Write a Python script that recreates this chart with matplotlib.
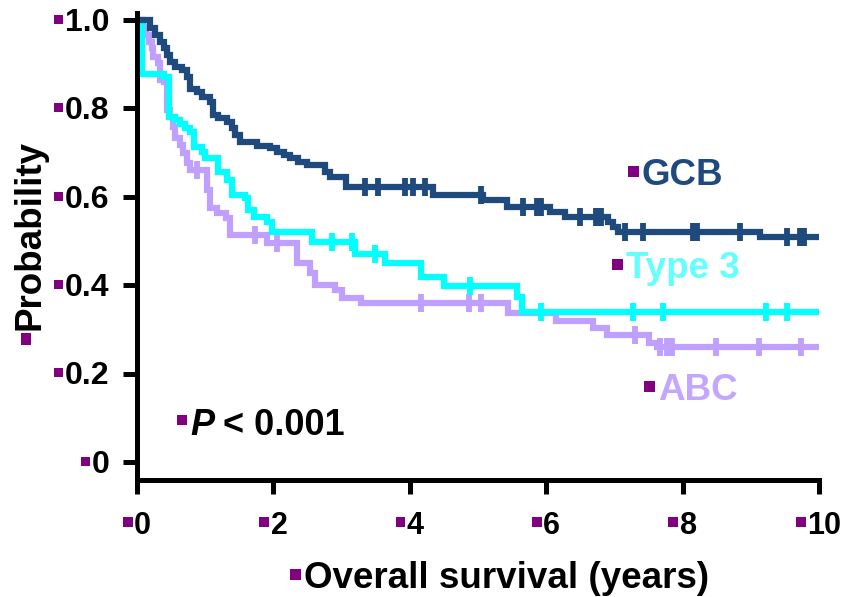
import numpy as np
import matplotlib.pyplot as plt
from matplotlib.offsetbox import TextArea, DrawingArea, HPacker, AnnotationBbox
from matplotlib.patches import Rectangle

plt.rcParams['font.family'] = ['Liberation Sans', 'DejaVu Sans']

# Kaplan-Meier curves (years, probability)
gcb_time = [0, 0.19, 0.26, 0.34, 0.39, 0.44, 0.48, 0.56, 0.66, 0.73,
            0.78, 0.88, 0.95, 1.07, 1.12, 1.19, 1.32, 1.39, 1.44, 1.51,
            1.76, 1.95, 2.05, 2.15, 2.24, 2.36, 2.49, 2.76, 2.83, 3.07,
            4.34, 5.07, 5.42, 6.06, 6.28, 6.91, 6.98, 7.05, 9.13, 9.97]
gcb_surv = [1.0, 0.981, 0.966, 0.951, 0.936, 0.921, 0.906, 0.894, 0.887, 0.872,
            0.845, 0.838, 0.826, 0.815, 0.785, 0.778, 0.770, 0.755, 0.740, 0.725,
            0.715, 0.710, 0.702, 0.695, 0.688, 0.679, 0.672, 0.657, 0.645, 0.623,
            0.604, 0.593, 0.578, 0.566, 0.555, 0.544, 0.532, 0.521, 0.510, 0.510]
gcb_cens = [3.34, 3.53, 3.93, 4.05, 4.22, 5.05, 5.66, 5.87, 5.92, 6.50,
            6.73, 6.80, 7.16, 7.42, 8.15, 8.21, 8.84, 9.53, 9.72, 9.78]

type3_time = [0, 0.08, 0.39, 0.47, 0.56, 0.63, 0.70, 0.78, 0.83, 0.95,
              1.00, 1.19, 1.32, 1.39, 1.58, 1.63, 1.71, 1.90, 1.98, 2.56,
              3.20, 3.64, 4.17, 4.50, 5.57, 5.64, 9.97]
type3_surv = [1.0, 0.879, 0.872, 0.781, 0.774, 0.765, 0.756, 0.747, 0.713, 0.702,
              0.687, 0.656, 0.638, 0.604, 0.597, 0.570, 0.555, 0.544, 0.521, 0.498,
              0.471, 0.450, 0.419, 0.399, 0.374, 0.340, 0.340]
type3_cens = [2.86, 3.15, 3.49, 4.88, 5.92, 7.27, 7.71, 9.22, 9.53]

abc_time = [0, 0.09, 0.13, 0.17, 0.22, 0.24, 0.31, 0.33, 0.39, 0.44,
            0.48, 0.53, 0.56, 0.63, 0.68, 0.73, 0.78, 1.02, 1.07, 1.17,
            1.31, 1.36, 1.90, 2.34, 2.54, 2.61, 2.90, 3.00, 3.29, 5.44,
            6.15, 6.69, 6.89, 7.50, 7.62, 9.97]
abc_surv = [1.0, 0.985, 0.966, 0.951, 0.936, 0.917, 0.902, 0.864, 0.860, 0.796,
            0.781, 0.759, 0.732, 0.717, 0.698, 0.676, 0.661, 0.615, 0.575, 0.563,
            0.552, 0.514, 0.495, 0.450, 0.427, 0.400, 0.389, 0.370, 0.359, 0.336,
            0.319, 0.302, 0.287, 0.269, 0.261, 0.261]
abc_cens = [0.88, 1.73, 2.05, 4.17, 4.87, 5.05, 7.30, 7.67, 7.77, 7.84, 8.49, 9.12, 9.73]

x_ticks = [0, 2, 4, 6, 8, 10]
x_labels = ['0', '2', '4', '6', '8', '10']
y_ticks = [0, 0.2, 0.4, 0.6, 0.8, 1.0]
y_labels = ['0', '0.2', '0.4', '0.6', '0.8', '1.0']

PURPLE = '#800080'
GCB_C = '#1f4a7e'
T3_C = '#00ffff'
ABC_C = '#c0a0ff'


def surv_at(times, surv, t):
    i = np.searchsorted(times, t, side='right') - 1
    return surv[i]


def bullet(size, lift):
    da = DrawingArea(size, size + lift, 0, 0)
    da.add_artist(Rectangle((0, lift), size, size, facecolor=PURPLE, edgecolor='none'))
    return da


def bullet_text(ax, parts, xy, xycoords, xybox, align, bsize, blift, sep=1.5):
    pack = HPacker(children=[bullet(bsize, blift)] + parts, align='baseline', pad=0, sep=sep)
    ab = AnnotationBbox(pack, xy, xybox=xybox, xycoords=xycoords, boxcoords='offset points',
                        box_alignment=align, frameon=False, pad=0, annotation_clip=False)
    ax.add_artist(ab)


def txt(s, size, color='black', style='normal'):
    return TextArea(s, textprops=dict(fontsize=size, fontweight='bold', color=color,
                                      fontstyle=style))


fig = plt.figure(figsize=(8.44, 5.97), dpi=100)
W, H = 844, 597
ax = fig.add_axes([137 / W, 1 - 480 / H, (819 - 137) / W, (480 - 13) / H])

for t, s, c, col in [(abc_time, abc_surv, abc_cens, ABC_C),
                     (type3_time, type3_surv, type3_cens, T3_C),
                     (gcb_time, gcb_surv, gcb_cens, GCB_C)]:
    ax.step(t, s, where='post', color=col, lw=4.5, solid_joinstyle='miter')
    ax.plot(c, [surv_at(t, s, v) for v in c], ls='none', marker='|', ms=12.5, mew=4.2, color=col)

ax.set_xlim(0, 10)
ax.set_ylim(-0.041, 1.016)
for side in ['top', 'right']:
    ax.spines[side].set_visible(False)
for side in ['left', 'bottom']:
    ax.spines[side].set_linewidth(3.6)
ax.set_xticks(x_ticks)
ax.set_yticks(y_ticks)
ax.set_xticklabels([])
ax.set_yticklabels([])
ax.tick_params(direction='out', length=10, width=3.6)

for v, lab in zip(y_ticks, y_labels):
    bullet_text(ax, [txt(lab, 23)], (0, v), ('axes fraction', 'data'), (-20, -2), (1, 0.5), 6.5, 5, 1)
for v, lab in zip(x_ticks, x_labels):
    bullet_text(ax, [txt(lab, 22)], (v, 0), ('data', 'axes fraction'), (0, -33), (0.5, 0.5), 7, 5, 1)

# curve labels and annotations (figure pixels)
bullet_text(ax, [txt('GCB', 26.5, GCB_C)], (628, H - 193), 'figure pixels', (0, 0), (0, 0), 8, 6, 2)
bullet_text(ax, [txt('Type 3', 26.5, '#66ffff')], (612, H - 286), 'figure pixels', (0, 0), (0, 0), 8, 6, 2)
bullet_text(ax, [txt('ABC', 26.5, '#c3a6ff')], (644, H - 408), 'figure pixels', (0, 0), (0, 0), 8, 6, 2)
p_part = HPacker(children=[txt('P', 26, style='italic'), txt('< 0.001', 26)], align='baseline', pad=0, sep=6)
bullet_text(ax, [p_part], (177, H - 443), 'figure pixels', (0, 0), (0, 0), 7.5, 7, 2)
bullet_text(ax, [txt('Overall survival (years)', 26.5)], (290, H - 596), 'figure pixels', (0, 0), (0, 0), 8, 6, 2)

# rotated y label with its bullet
fig.text(40 / W, 1 - 330 / H, 'Probability', rotation=90, rotation_mode='anchor',
         ha='left', va='baseline', fontsize=26.5, fontweight='bold')
fig.add_artist(Rectangle((21 / W, 1 - 345 / H), 10 / W, 12 / H, facecolor=PURPLE,
                         edgecolor='none', transform=fig.transFigure))

fig.savefig('out.png', dpi=100)
